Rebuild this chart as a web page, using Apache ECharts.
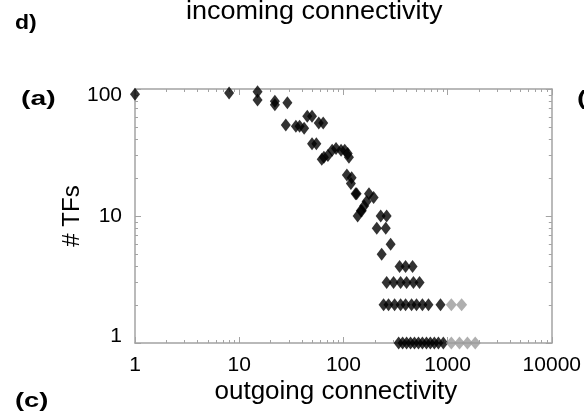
<!DOCTYPE html>
<html>
<head>
<meta charset="utf-8">
<script src="https://cdn.jsdelivr.net/npm/echarts@6/dist/echarts.min.js"></script>
<style>
  html, body { margin: 0; padding: 0; background: #fff; }
  #chart { width: 584px; height: 418px; }
</style>
</head>
<body>
<div id="chart"></div>
<script>
// Out-degree (x) vs number of transcription factors (y), both on log scales.
const blackPoints = [
  [1, 91], [8, 93], [15, 95], [15, 82], [22, 80], [22, 75], [29, 78],
  [28, 52], [35, 51], [38, 51], [42, 49], [45, 61], [50, 61], [58, 54], [64, 54],
  [50, 37], [55, 37],
  [62, 28], [65, 29], [71, 30], [78, 33], [85, 34], [95, 33], [103, 33], [113, 29], [110, 31],
  [108, 21], [120, 20], [118, 18],
  [131, 15], [134, 15], [176, 15], [195, 14], [167, 13], [158, 12], [150, 11], [147, 11], [137, 10],
  [228, 10], [260, 10], [209, 8], [255, 8], [284, 6], [233, 5],
  [346, 4], [395, 4], [461, 4],
  [260, 3], [303, 3], [354, 3], [404, 3], [470, 3], [538, 3],
  [243, 2], [271, 2], [310, 2], [354, 2], [395, 2], [451, 2], [503, 2], [573, 2], [655, 2], [855, 2],
  [339, 1], [370, 1], [404, 1], [441, 1], [481, 1], [525, 1], [573, 1], [627, 1], [683, 1],
  [746, 1], [816, 1], [910, 1]
];
const grayPoints = [
  [1086, 2], [1363, 2],
  [1086, 1], [1300, 1], [1550, 1], [1841, 1]
];

const xMajorTicks = [1, 10, 100, 1000, 10000];
const yMajorTicks = [1, 10, 100];
const xMinorTicks = [];
for (let d = 1; d < 10000; d *= 10) for (let k = 2; k <= 9; k++) xMinorTicks.push(k * d);
const yMinorTicks = [];
for (let d = 1; d < 100; d *= 10) for (let k = 2; k <= 9; k++) yMinorTicks.push(k * d);

const FONT = "'Liberation Sans', Arial, Helvetica, sans-serif";
const AXIS_GRAY = '#a3a3a3';

function logAxis(opts) {
  return Object.assign({
    type: 'log',
    logBase: 10,
    splitLine: { show: false },
    axisLine: { show: opts.line, lineStyle: { color: AXIS_GRAY, width: 1.5 } },
    axisTick: {
      show: true, inside: true, length: opts.tickLen,
      customValues: opts.ticks,
      lineStyle: { color: AXIS_GRAY, width: 1 }
    },
    axisLabel: { show: false }
  }, opts.extra || {});
}

const xAxes = [
  logAxis({ line: true, tickLen: 3, ticks: xMinorTicks, extra: {
    position: 'bottom', min: 1, max: 10000,
    axisLabel: {
      show: true, customValues: xMajorTicks, margin: 12,
      fontFamily: FONT, fontSize: 21, color: '#000',
      formatter: v => String(v)
    },
    name: 'outgoing connectivity', nameLocation: 'middle', nameGap: 36, nameMoveOverlap: false,
    nameTextStyle: { fontFamily: FONT, fontSize: 26, color: '#000', padding: [0, 15, 0, 0] }
  }}),
  logAxis({ line: false, tickLen: 6, ticks: xMajorTicks, extra: { position: 'bottom', min: 1, max: 10000 } }),
  logAxis({ line: true, tickLen: 3, ticks: xMinorTicks, extra: { position: 'top', min: 1, max: 10000 } }),
  logAxis({ line: false, tickLen: 6, ticks: xMajorTicks, extra: { position: 'top', min: 1, max: 10000 } })
];

const yAxes = [
  logAxis({ line: true, tickLen: 3, ticks: yMinorTicks, extra: {
    position: 'left', min: 1, max: 100,
    axisLabel: {
      show: true, customValues: yMajorTicks, margin: 13,
      fontFamily: FONT, fontSize: 21, color: '#000',
      formatter: v => v === 100 ? '{hi|100}' : (v === 1 ? '{lo|1}' : '{mid|10}'),
      rich: {
        hi: { fontFamily: FONT, fontSize: 21, color: '#000', padding: [12, 0, 0, 0] },
        mid: { fontFamily: FONT, fontSize: 21, color: '#000' },
        lo: { fontFamily: FONT, fontSize: 21, color: '#000', padding: [0, 0, 14, 0] }
      }
    },
    name: '# TFs', nameLocation: 'middle', nameGap: 51, nameRotate: 90, nameMoveOverlap: false,
    nameTextStyle: { fontFamily: FONT, fontSize: 24, color: '#000' }
  }}),
  logAxis({ line: false, tickLen: 6, ticks: yMajorTicks, extra: { position: 'left', min: 1, max: 100 } }),
  logAxis({ line: true, tickLen: 3, ticks: yMinorTicks, extra: { position: 'right', min: 1, max: 100 } }),
  logAxis({ line: false, tickLen: 6, ticks: yMajorTicks, extra: { position: 'right', min: 1, max: 100 } })
];

// Panel letters and the heading, stretched horizontally a little.
const panelText = (text, x, y, size, bold, stretch) => ({
  type: 'text', x: x, y: y, scaleX: stretch,
  style: {
    text: text, fill: '#000',
    fontFamily: FONT, fontSize: size, fontWeight: bold ? 'bold' : 'normal'
  }
});

const chart = echarts.init(document.getElementById('chart'), null, { renderer: 'canvas' });
chart.setOption({
  backgroundColor: '#fff',
  animation: false,
  grid: { left: 135, right: 30, top: 89, bottom: 75, containLabel: false },
  xAxis: xAxes,
  yAxis: yAxes,
  graphic: [
    panelText('d)', 15, 13, 20, true, 1.15),
    panelText('incoming connectivity', 186, 0, 25, false, 1.08),
    panelText('(a)', 21, 89, 21, true, 1.35),
    panelText('(c)', 15, 391, 21, true, 1.3),
    panelText('(b)', 577, 89, 21, true, 1.35)
  ],
  series: [
    {
      type: 'scatter', xAxisIndex: 0, yAxisIndex: 0, clip: false,
      symbol: 'diamond', symbolSize: [10, 13],
      itemStyle: { color: '#000' },
      data: blackPoints
    },
    {
      type: 'scatter', xAxisIndex: 0, yAxisIndex: 0, clip: false,
      symbol: 'diamond', symbolSize: [11, 13],
      itemStyle: { color: '#9b9b9b' },
      data: grayPoints
    }
  ]
});
</script>
</body>
</html>
